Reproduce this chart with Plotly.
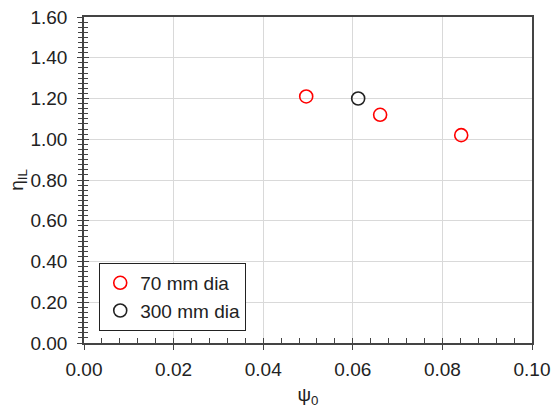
import plotly.graph_objects as go

# Data
x_70 = [0.0496, 0.0661, 0.0842]
y_70 = [1.21, 1.12, 1.02]
x_300 = [0.0612]
y_300 = [1.20]
name_70 = "70 mm dia"
name_300 = "300 mm dia"

FONT = "Liberation Sans, Arial, sans-serif"

fig = go.Figure()
fig.add_trace(go.Scatter(x=x_70, y=y_70, mode="markers", name=name_70,
                         marker=dict(symbol="circle-open", size=13, color="#ff0000",
                                     line=dict(width=1.6, color="#ff0000"))))
fig.add_trace(go.Scatter(x=x_300, y=y_300, mode="markers", name=name_300,
                         marker=dict(symbol="circle-open", size=13, color="#222222",
                                     line=dict(width=1.6, color="#222222"))))
# invisible trace on overlay axes for inside ticks
fig.add_trace(go.Scatter(x=[0], y=[0], xaxis="x2", yaxis="y2", mode="markers",
                         marker=dict(opacity=0), showlegend=False, hoverinfo="skip"))

fig.update_layout(
    width=552, height=408,
    margin=dict(l=84, r=20, t=17, b=65, autoexpand=False),
    paper_bgcolor="white", plot_bgcolor="white",
    font=dict(family=FONT, size=19, color="#222222"),
    showlegend=True,
    legend=dict(x=0.034, y=0.037, xanchor="left", yanchor="bottom",
                bgcolor="white", bordercolor="#222222", borderwidth=1,
                font=dict(size=19, color="#222222"), itemwidth=30,
                tracegroupgap=0),
    xaxis=dict(range=[0, 0.1], dtick=0.02, tickformat=".2f", automargin=False,
               showgrid=True, gridcolor="#d9d9d9", gridwidth=1,
               showline=True, linecolor="#444444", linewidth=1.5, mirror=True,
               ticks="outside", ticklen=5, tickcolor="#444444", ticklabelstandoff=3,
               minor=dict(dtick=0.004, ticks="", showgrid=False),
               zeroline=False,
               title=dict(text="ψ<sub>0</sub>", font=dict(size=19), standoff=10)),
    yaxis=dict(range=[0, 1.6], dtick=0.2, tickformat=".2f", automargin=False,
               showgrid=True, gridcolor="#d9d9d9", gridwidth=1,
               showline=True, linecolor="#444444", linewidth=1.5, mirror=True,
               ticks="outside", ticklen=5, tickcolor="#444444", ticklabelstandoff=6,
               minor=dict(dtick=0.025, ticks="outside", ticklen=4, tickcolor="#444444", showgrid=False),
               zeroline=False,
               title=dict(text="η<sub>IL</sub>", font=dict(size=19), standoff=0)),
    xaxis2=dict(range=[0, 0.1], overlaying="x", showticklabels=False, automargin=False,
                showgrid=False, zeroline=False, showline=False,
                dtick=0.02, ticks="inside", ticklen=5, tickcolor="#444444",
                minor=dict(dtick=0.004, ticks="inside", ticklen=5, tickcolor="#444444")),
    yaxis2=dict(range=[0, 1.6], overlaying="y", showticklabels=False, automargin=False,
                showgrid=False, zeroline=False, showline=False,
                dtick=0.2, ticks="inside", ticklen=5, tickcolor="#444444",
                minor=dict(dtick=0.025, ticks="inside", ticklen=4, tickcolor="#444444")),
)

fig.write_html("out.html")
